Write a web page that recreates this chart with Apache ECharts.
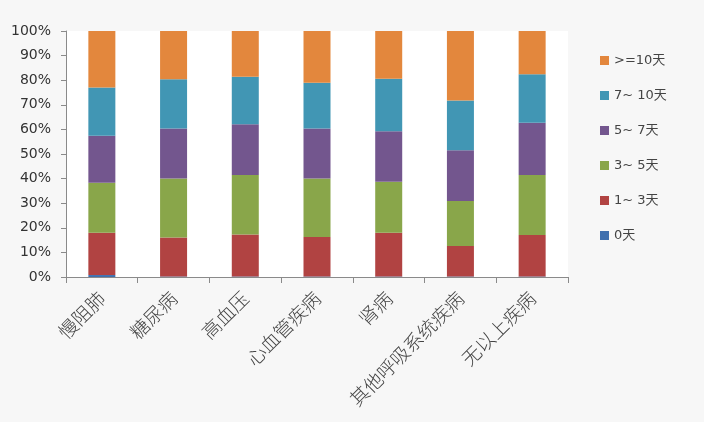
<!DOCTYPE html>
<html>
<head>
<meta charset="utf-8">
<script src="https://cdn.jsdelivr.net/npm/echarts@6/dist/echarts.min.js"></script>
<style>
  html,body{margin:0;padding:0;background:#f7f7f7;}
  #main{width:704px;height:422px;}
</style>
</head>
<body>
<div id="main"></div>
<script>
// 疾病类别
const categories = ['慢阻肺', '糖尿病', '高血压', '心血管疾病', '肾病', '其他呼吸系统疾病', '无以上疾病'];
// 各住院天数段占比(%)
const day0 = [0.8, 0.2, 0.2, 0.2, 0.2, 0.2, 0.2];
const day1to3 = [17.2, 15.9, 17.1, 16.1, 17.8, 12.4, 16.9];
const day3to5 = [20.3, 23.9, 24.2, 23.7, 20.7, 18.3, 24.4];
const day5to7 = [19.1, 20.4, 20.6, 20.4, 20.5, 20.6, 21.2];
const day7to10 = [19.6, 20.0, 19.3, 18.6, 21.4, 20.2, 19.7];
const day10plus = [23.0, 19.6, 18.6, 21.0, 19.4, 28.3, 17.6];
const seriesNames = ['0天', '1~ 3天', '3~ 5天', '5~ 7天', '7~ 10天', '>=10天'];
const yTicks = [0, 10, 20, 30, 40, 50, 60, 70, 80, 90, 100];

const colors = ['#3f6fae', '#b14342', '#89a64a', '#73568e', '#4196b4', '#e3873d'];
const seriesData = [day0, day1to3, day3to5, day5to7, day7to10, day10plus];

const myChart = echarts.init(document.querySelector('#main'));
const option = {
    backgroundColor: '#f7f7f7',
    color: colors,
    grid: {
        left: 66,
        right: 136,
        top: 31,
        bottom: 145,
        show: true,
        backgroundColor: '#fff',
        borderWidth: 0
    },
    legend: {
        orient: 'vertical',
        left: 595,
        top: 49,
        itemWidth: 9,
        itemHeight: 9,
        itemGap: 22,
        icon: 'rect',
        data: seriesNames.slice().reverse(),
        textStyle: {
            fontFamily: 'DejaVu Sans, Noto Sans CJK SC',
            fontSize: 13,
            color: '#444'
        }
    },
    xAxis: {
        type: 'category',
        data: categories,
        axisLine: { lineStyle: { color: '#8a8a8a' } },
        axisTick: { show: true, length: 6, alignWithLabel: false, lineStyle: { color: '#8a8a8a' } },
        axisLabel: {
            rotate: 45,
            interval: 0,
            margin: 18,
            fontFamily: 'Noto Sans CJK SC',
            fontWeight: 300,
            fontSize: 19,
            color: '#444'
        }
    },
    yAxis: {
        type: 'value',
        min: 0,
        max: 100,
        interval: 10,
        axisLine: { show: true, lineStyle: { color: '#8a8a8a' } },
        axisTick: { show: true, length: 5, lineStyle: { color: '#8a8a8a' } },
        splitLine: { show: false },
        axisLabel: {
            margin: 15,
            fontFamily: 'DejaVu Sans',
            fontSize: 14,
            color: '#333',
            formatter: v => yTicks.includes(v) ? v + '%' : ''
        }
    },
    series: seriesNames.map((name, i) => ({
        name: name,
        type: 'bar',
        stack: 'total',
        barWidth: 27,
        data: seriesData[i]
    }))
};
myChart.setOption(option);
</script>
</body>
</html>
